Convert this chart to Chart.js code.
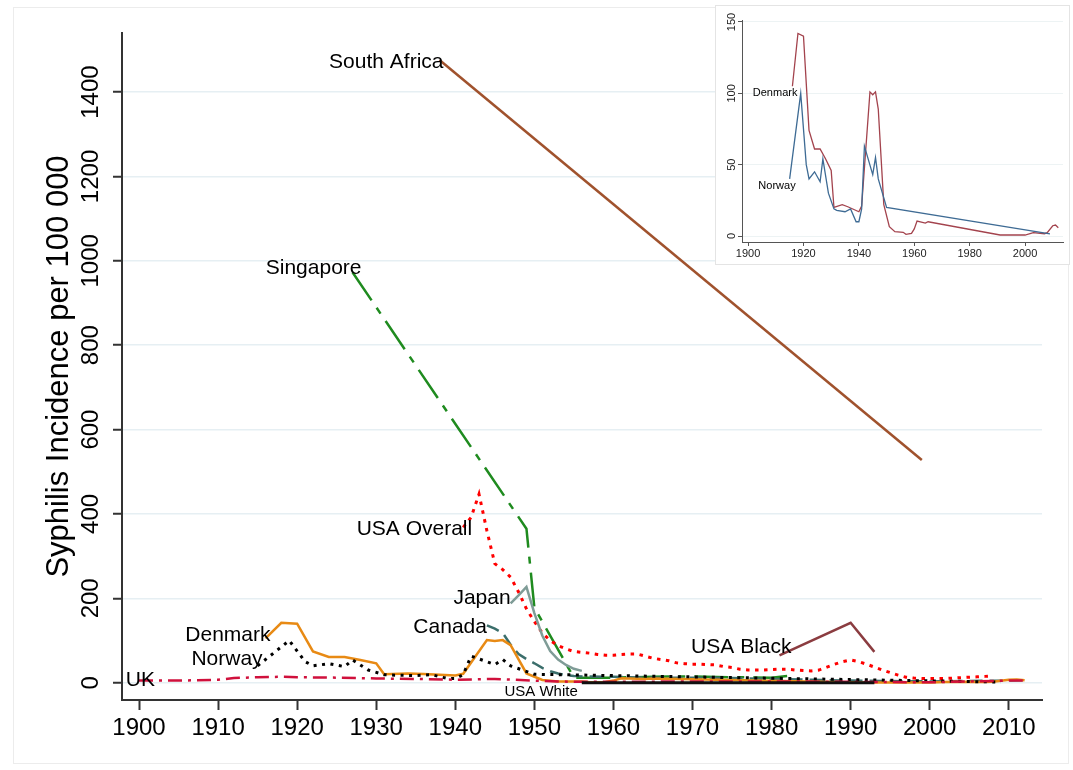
<!DOCTYPE html>
<html>
<head>
<meta charset="utf-8">
<script src="https://cdn.jsdelivr.net/npm/chart.js@4.4.1/dist/chart.umd.min.js"></script>
<style>
  body { margin: 0; background: #fff; }
  #wrap { position: relative; width: 1073px; height: 770px; }
  #main { position: absolute; left: 0; top: 0; }
  #inset { position: absolute; left: 715px; top: 5px; }
</style>
</head>
<body>
<div id="wrap">
  <canvas id="main" width="1073" height="770"></canvas>
  <canvas id="inset" width="355" height="260"></canvas>
</div>
<script>
// ---- data (cases per 100 000) ----
const yearTicks = [1900, 1910, 1920, 1930, 1940, 1950, 1960, 1970, 1980, 1990, 2000, 2010];
const rateTicks = [0, 200, 400, 600, 800, 1000, 1200, 1400];
const insetYearTicks = [1900, 1920, 1940, 1960, 1980, 2000];
const insetRateTicks = [0, 50, 100, 150];

const southAfricaYears = [1938, 1999];
const southAfricaRates = [1476, 528];

const singaporeYears = [1927, 1949, 1950, 1955, 1960, 1965, 1970, 1975, 1980, 1983];
const singaporeRates = [973, 365, 178, 12, 12, 14, 15, 13, 12, 18];

const usaOverallYears = [1941, 1942, 1943, 1944, 1945, 1946, 1947, 1948, 1949, 1950,
  1951, 1952, 1953, 1954, 1955, 1956, 1957, 1958, 1959, 1960,
  1961, 1962, 1963, 1964, 1965, 1966, 1967, 1968, 1969, 1970,
  1971, 1972, 1973, 1974, 1975, 1976, 1977, 1978, 1979, 1980,
  1981, 1982, 1983, 1984, 1985, 1986, 1987, 1988, 1989, 1990,
  1991, 1992, 1993, 1994, 1995, 1996, 1997, 1998, 1999, 2000,
  2001, 2002, 2003, 2004, 2005, 2006, 2007, 2008];
const usaOverallRates = [368, 392, 447, 360, 282, 268, 250, 215, 175, 145,
  118, 100, 88, 80, 74, 72, 70, 67, 65, 65,
  67, 68, 68, 63, 58, 55, 52, 47, 45, 44,
  44, 43, 42, 38, 36, 32, 30, 30, 30, 31,
  32, 32, 30, 29, 28, 30, 37, 44, 50, 54,
  50, 44, 37, 30, 24, 18, 13, 11, 10, 10,
  10, 10, 11, 12, 13, 14, 15, 16];

const japanYears = [1947, 1948, 1949, 1950, 1951, 1952, 1953, 1954, 1955, 1956];
const japanRates = [188, 207, 227, 165, 112, 75, 55, 42, 33, 28];

const canadaYears = [1944, 1945, 1946, 1947, 1948, 1949, 1950, 1951, 1952, 1953, 1954, 1955, 1956,
  1960, 1965, 1970, 1975, 1980, 1985, 1990, 1995, 2000, 2005, 2010, 2012];
const canadaRates = [136, 128, 118, 90, 68, 56, 46, 35, 27, 22, 18, 16, 15,
  14, 12, 12, 11, 9, 7, 5, 4, 3, 4, 5, 6];

const denmarkYears = [1916, 1918, 1920, 1922, 1924, 1926, 1928, 1930, 1931, 1934, 1936, 1940, 1941,
  1944, 1945, 1946, 1947, 1949, 1951, 1953, 1956, 1957, 1959, 1960, 1961, 1964, 1965,
  1991, 2000, 2003, 2007, 2008, 2010, 2011, 2012];
const denmarkRates = [105, 142, 140, 74, 61, 61, 54, 46, 20, 22, 20.5, 17, 21,
  101, 99, 101, 89, 22, 6.5, 3, 2.6, 1.2, 1.9, 5, 10.5, 9, 10,
  0.7, 0.7, 2.3, 1.6, 2.3, 7.2, 7.7, 5.8];

const norwayYears = [1915, 1919, 1921, 1922, 1924, 1926, 1927, 1929, 1931, 1932, 1935, 1937,
  1939, 1940, 1941, 1942, 1945, 1946, 1947, 1950, 2009];
const norwayRates = [40, 100, 50, 40, 45, 38, 54, 30, 19, 18, 17, 19,
  10, 10, 19, 63, 43, 55, 40, 20, 1.5];

const ukYears = [1900, 1905, 1910, 1912, 1915, 1918, 1920, 1925, 1930, 1935, 1940, 1945, 1950,
  1955, 1960, 1970, 1980, 1990, 2000, 2005, 2010, 2012];
const ukRates = [5, 5, 7, 11, 13, 14, 13, 12, 10, 9, 7, 9, 5,
  2, 2, 3, 3, 2, 1, 3, 5, 5];

const usaBlackYears = [1981, 1990, 1993];
const usaBlackRates = [65, 142, 73];

const usaWhiteYears = [1956, 1970, 1993];
const usaWhiteRates = [0, 0, 0];

// ---- helpers ----
const FONT = "'Liberation Sans', Arial, Helvetica, sans-serif";
Chart.defaults.font.family = FONT;
Chart.defaults.color = '#000';

function pts(xs, ys) {
  return xs.map((x, i) => ({ x: x, y: ys[i] }));
}

var paper = {
  id: 'paper',
  beforeDraw(chart, args, opts) {
    var ctx = chart.ctx;
    ctx.save();
    ctx.fillStyle = '#fff';
    ctx.fillRect(0, 0, chart.width, chart.height);
    if (opts.frame) {
      ctx.strokeStyle = opts.frame;
      ctx.lineWidth = 1;
      ctx.strokeRect(opts.box[0], opts.box[1], opts.box[2], opts.box[3]);
    }
    ctx.restore();
  }
};

// writes each series name next to its first point
var seriesLabels = {
  id: 'seriesLabels',
  afterDatasetsDraw(chart, args, opts) {
    var ctx = chart.ctx;
    ctx.save();
    ctx.fillStyle = '#000';
    ctx.textBaseline = 'alphabetic';
    chart.data.datasets.forEach(function (ds, i) {
      var spot = opts.spots[ds.label];
      if (!spot) return;
      var first = chart.getDatasetMeta(i).data[0];
      ctx.font = (spot.size || opts.size) + 'px ' + FONT;
      ctx.textAlign = spot.align || 'right';
      ctx.fillText(ds.label, first.x + spot.dx, first.y + spot.dy);
    });
    ctx.restore();
  }
};

function line(label, xs, ys, color, width, dash) {
  return {
    label: label,
    data: pts(xs, ys),
    borderColor: color,
    backgroundColor: color,
    borderWidth: width,
    borderDash: dash || [],
    pointRadius: 0,
    tension: 0,
    fill: false
  };
}

// ---- main chart ----
new Chart(document.getElementById('main'), {
  type: 'line',
  data: {
    datasets: [
      line('USA White', usaWhiteYears, usaWhiteRates, '#111', 3),
      line('UK', ukYears, ukRates, '#d0103c', 2.5, [14, 6, 3, 6]),
      line('Norway', norwayYears, norwayRates, '#000', 3, [3, 5.5]),
      line('Denmark', denmarkYears, denmarkRates, '#e88a14', 2.5),
      line('Canada', canadaYears, canadaRates, '#3b6e6b', 2.5, [13, 7]),
      line('Japan', japanYears, japanRates, '#7f9c97', 2.5),
      line('USA Overall', usaOverallYears, usaOverallRates, '#ff0000', 3, [3.5, 5.5]),
      line('Singapore', singaporeYears, singaporeRates, '#1f8b1f', 2.5, [34, 9, 7, 9]),
      line('USA Black', usaBlackYears, usaBlackRates, '#8b3c40', 2.5),
      line('South Africa', southAfricaYears, southAfricaRates, '#a0522d', 2.5)
    ]
  },
  options: {
    responsive: false,
    animation: false,
    layout: { padding: { top: 33, right: 31, left: 0, bottom: 0 } },
    plugins: {
      legend: { display: false },
      tooltip: { enabled: false },
      paper: { frame: '#ececec', box: [13.5, 7.5, 1055, 756] },
      seriesLabels: {
        size: 21,
        spots: {
          'South Africa': { dx: 4, dy: 8 },
          'Singapore': { dx: 9, dy: 2 },
          'USA Overall': { dx: 9, dy: 8 },
          'Japan': { dx: 0, dy: 1 },
          'Canada': { dx: 0, dy: 8 },
          'Denmark': { dx: 5, dy: 3 },
          'Norway': { dx: 5, dy: -1 },
          'UK': { dx: 16, dy: 5 },
          'USA Black': { dx: 12, dy: -2 },
          'USA White': { dx: -4, dy: 13, size: 15 }
        }
      }
    },
    scales: {
      x: {
        type: 'linear',
        min: 1897.85,
        max: 2014.2,
        afterFit: function (s) { s.height = 70; },
        afterBuildTicks: function (s) { s.ticks = yearTicks.map(v => ({ value: v })); },
        ticks: { font: { size: 24 }, color: '#000', padding: 4, maxRotation: 0, autoSkip: false,
          callback: v => String(v) },
        grid: { drawOnChartArea: false, tickLength: 10, tickColor: '#333', tickWidth: 2 },
        border: { color: '#333', width: 2 }
      },
      y: {
        type: 'linear',
        min: -41,
        max: 1540,
        afterFit: function (s) { s.width = 122; },
        afterBuildTicks: function (s) { s.ticks = rateTicks.map(v => ({ value: v })); },
        ticks: { font: { size: 24 }, color: '#000', minRotation: 90, maxRotation: 90,
          crossAlign: 'center', padding: -5, autoSkip: false, callback: v => String(v) },
        grid: { color: '#e6eff3', lineWidth: 1.5, tickLength: 9, tickColor: '#333', tickWidth: 2 },
        border: { color: '#333', width: 2 },
        title: { display: true, text: 'Syphilis Incidence per 100 000', color: '#000',
          font: { size: 31 }, padding: { top: 41, bottom: 0 } }
      }
    }
  },
  plugins: [paper, seriesLabels]
});

// ---- inset: Denmark and Norway only ----
new Chart(document.getElementById('inset'), {
  type: 'line',
  data: {
    datasets: [
      line('Norway', norwayYears, norwayRates, '#3e6b94', 1.3),
      line('Denmark', denmarkYears, denmarkRates, '#a3434d', 1.3)
    ]
  },
  options: {
    responsive: false,
    animation: false,
    layout: { padding: { top: 15, right: 7, left: 0, bottom: 0 } },
    plugins: {
      legend: { display: false },
      tooltip: { enabled: false },
      paper: { frame: '#e4e4e4', box: [0.5, 0.5, 354, 259] },
      seriesLabels: {
        size: 11,
        spots: {
          'Denmark': { dx: 5, dy: 10 },
          'Norway': { dx: 6, dy: 10 }
        }
      }
    },
    scales: {
      x: {
        type: 'linear',
        min: 1897.8,
        max: 2013.7,
        afterFit: function (s) { s.height = 23; },
        afterBuildTicks: function (s) { s.ticks = insetYearTicks.map(v => ({ value: v })); },
        ticks: { font: { size: 11 }, color: '#222', padding: 1, maxRotation: 0, autoSkip: false,
          callback: v => String(v) },
        grid: { drawOnChartArea: false, tickLength: 4, tickColor: '#555', tickWidth: 1 },
        border: { color: '#555', width: 1 }
      },
      y: {
        type: 'linear',
        min: -4.2,
        max: 151.4,
        afterFit: function (s) { s.width = 27; },
        afterBuildTicks: function (s) { s.ticks = insetRateTicks.map(v => ({ value: v })); },
        ticks: { font: { size: 11 }, color: '#222', minRotation: 90, maxRotation: 90,
          crossAlign: 'center', padding: -3, autoSkip: false, callback: v => String(v) },
        grid: { color: '#edf3f4', lineWidth: 1, tickLength: 4, tickColor: '#555', tickWidth: 1 },
        border: { color: '#555', width: 1 }
      }
    }
  },
  plugins: [paper, seriesLabels]
});
</script>
</body>
</html>
